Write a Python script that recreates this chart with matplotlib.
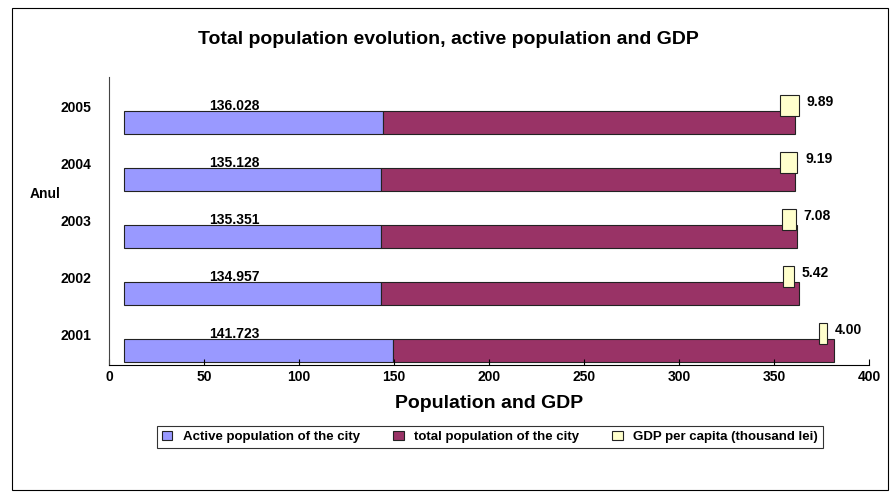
import matplotlib
matplotlib.use("Agg")
import matplotlib.pyplot as plt
from matplotlib.patches import Rectangle

years = ["2001", "2002", "2003", "2004", "2005"]
active = [141.723, 134.957, 135.351, 135.128, 136.028]
rest = [232.0, 220.0, 219.0, 218.0, 217.0]
gdp = [4.00, 5.42, 7.08, 9.19, 9.89]
offset = 8

plt.rcParams['font.family'] = ['Liberation Sans', 'DejaVu Sans']
plt.rcParams['font.weight'] = 'bold'
fig = plt.figure(figsize=(8.96, 4.95), dpi=100)
fig.patches.append(Rectangle((12/896, 1-490/495), 876/896, 482/495, transform=fig.transFigure,
                             fill=False, edgecolor='black', lw=0.8))
ax = fig.add_axes([109/896, 1-365/495, 760/896, 288/495])
y = list(range(len(years)))
h = 0.4
ax.barh(y, active, left=offset, height=h, color='#9999ff', edgecolor='#222', lw=0.8,
        label='Active population of the city')
lefts = [offset + a for a in active]
ax.barh(y, rest, left=lefts, height=h, color='#993366', edgecolor='#222', lw=0.8,
        label='total population of the city')
ends = [l + r for l, r in zip(lefts, rest)]
ax.barh([i + 0.3 for i in y], gdp, left=[e - 8 for e in ends], height=0.38,
        color='#ffffcc', edgecolor='#222', lw=0.8, label='GDP per capita (thousand lei)')
for i in y:
    ax.text(offset + 58, i + h/2 + 0.09, f"{active[i]:.3f}", ha='center', va='center', fontsize=10)
    ax.text(ends[i] - 8 + gdp[i] + 4, i + 0.36, f"{gdp[i]:.2f}", ha='left', va='center', fontsize=10)
ax.set_xlim(0, 400)
ax.set_ylim(-0.25, 4.8)
ax.set_xticks(range(0, 401, 50))
ax.set_yticks([i + h/2 + 0.09 for i in y])
ax.set_yticklabels(years)
ax.tick_params(axis='y', length=0, pad=13, labelsize=10)
ax.tick_params(axis='x', labelsize=10, direction='in', length=4)
for s in ['top', 'right']:
    ax.spines[s].set_visible(False)
ax.spines['left'].set_color('#444')
ax.set_xlabel("Population and GDP", fontsize=14, fontweight='bold', labelpad=8)
fig.text(45/896, 1-194/495, "Anul", fontsize=10, fontweight='bold', ha='center', va='center')
fig.text(0.5, 1-40/495, "Total population evolution, active population and GDP", fontsize=14,
         fontweight='bold', ha='center', va='center')
leg = fig.legend(loc='center', bbox_to_anchor=(490/896, 1-437/495), ncol=3, fontsize=9.5,
                 frameon=True, fancybox=False, edgecolor='black', handlelength=0.8, columnspacing=2.5)
leg.get_frame().set_linewidth(0.8)
fig.savefig("out.png", dpi=100)
